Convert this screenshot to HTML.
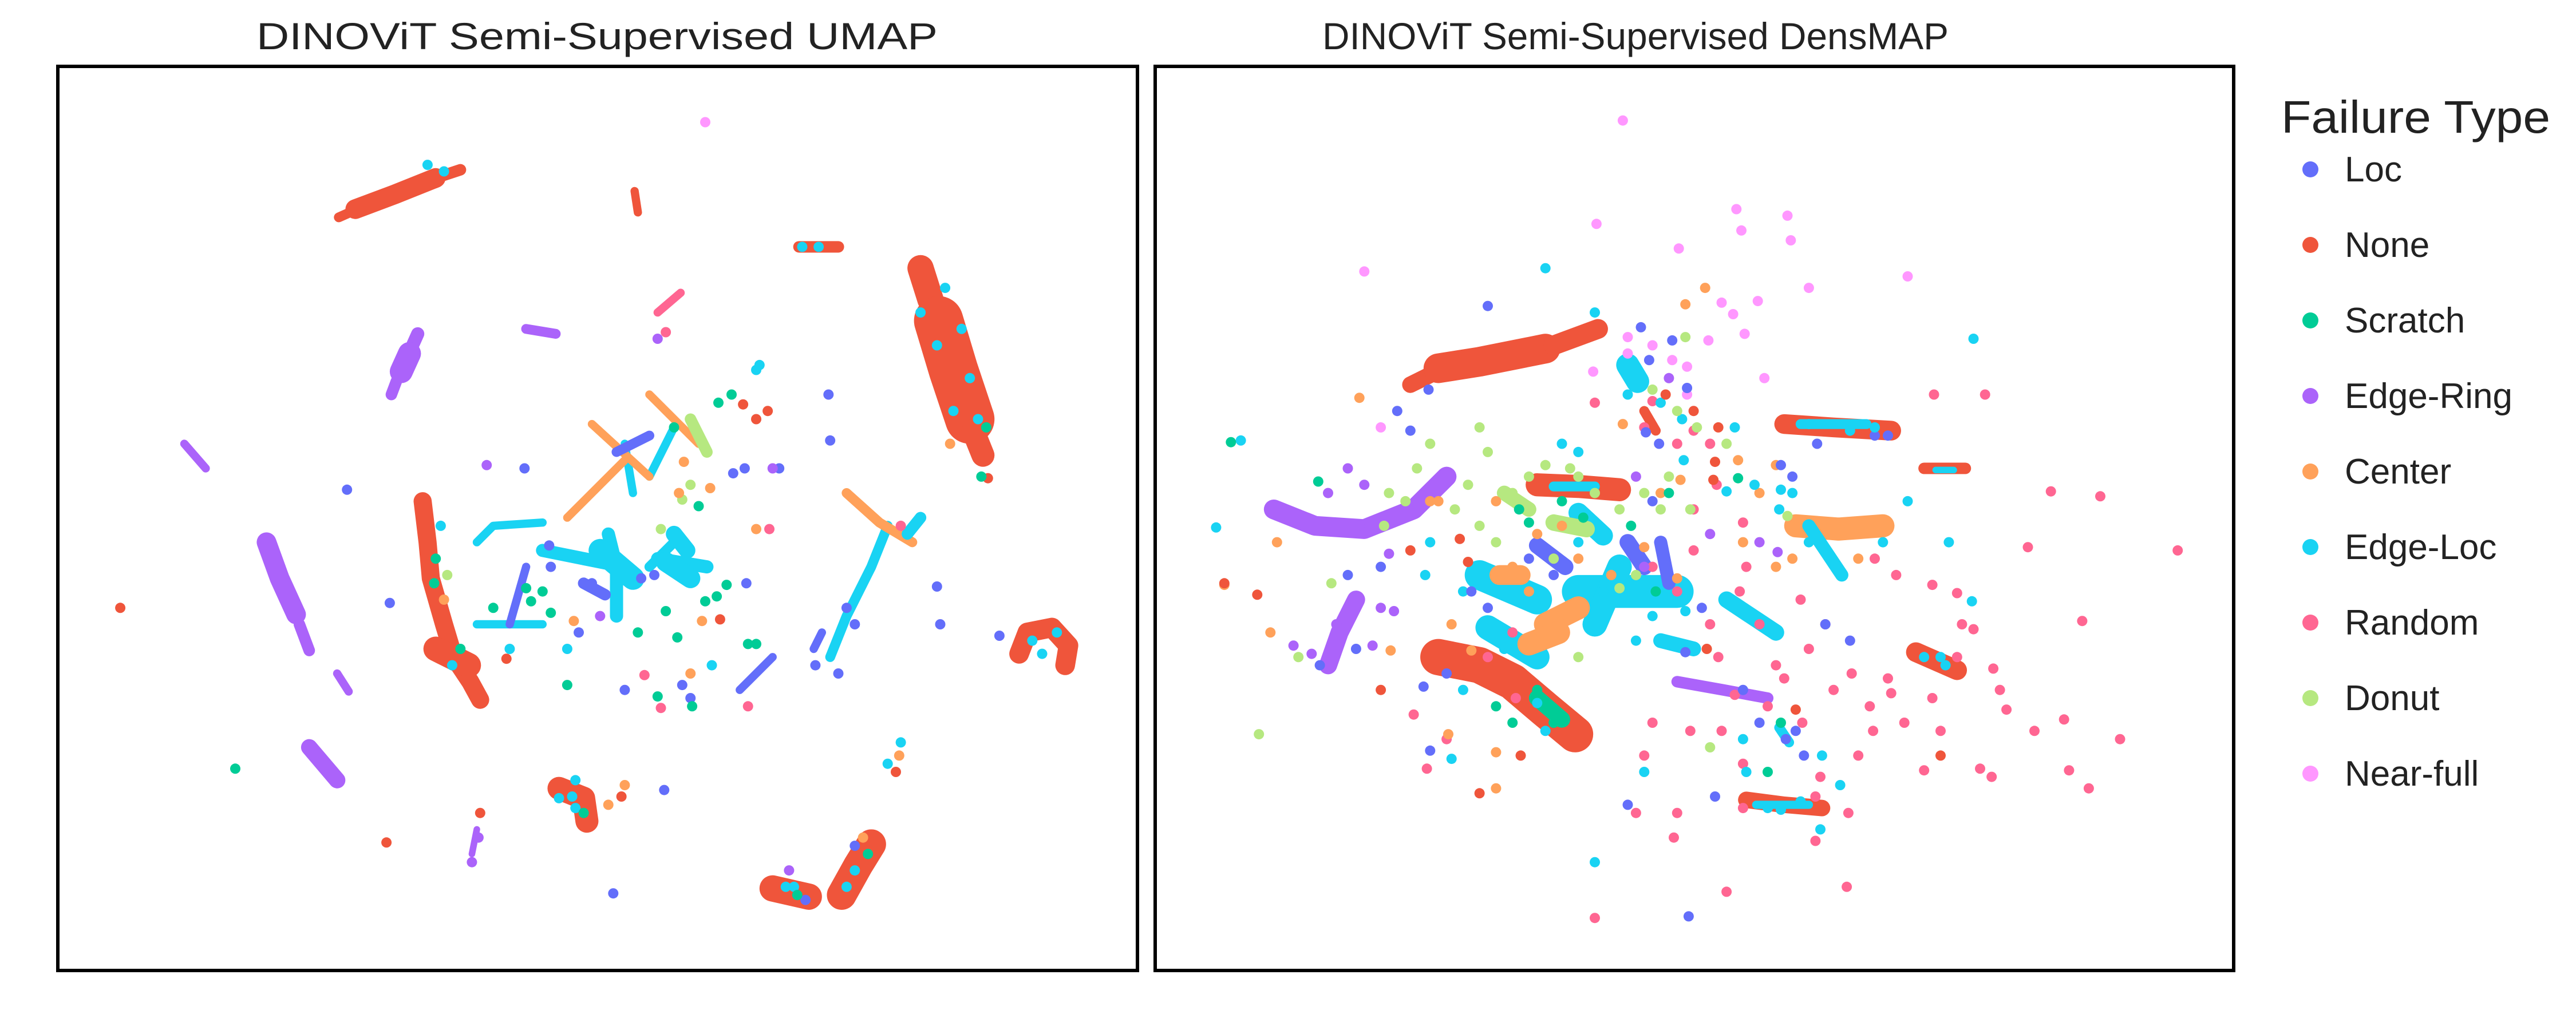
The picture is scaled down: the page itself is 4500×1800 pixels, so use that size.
<!DOCTYPE html>
<html><head><meta charset="utf-8"><style>
html,body{margin:0;padding:0;background:#fff;}
svg{display:block;font-family:"Liberation Sans",Arial,sans-serif;}
</style></head><body>
<svg id="chart" width="4500" height="1800" viewBox="0 0 4500 1800" xmlns="http://www.w3.org/2000/svg">
<rect x="0" y="0" width="4500" height="1800" fill="#fff"/>
<g id="umap"></g>
<g id="dens"></g>
<rect x="101" y="116" width="1886" height="1580" fill="none" stroke="#000" stroke-width="6"/>
<rect x="2018" y="116" width="1884" height="1580" fill="none" stroke="#000" stroke-width="6"/>
<text x="1043" y="86" font-size="66" fill="#222" text-anchor="middle" textLength="1190" lengthAdjust="spacingAndGlyphs">DINOViT Semi-Supervised UMAP</text>
<text x="2857" y="86" font-size="66" fill="#222" text-anchor="middle" textLength="1094" lengthAdjust="spacingAndGlyphs">DINOViT Semi-Supervised DensMAP</text>
<g id="legend">
<text x="3985" y="232" font-size="80" fill="#222" textLength="470" lengthAdjust="spacingAndGlyphs">Failure Type</text>
</g>
</svg>
<script>
const categories = ["Loc","None","Scratch","Edge-Ring","Center","Edge-Loc","Random","Donut","Near-full"];
const colors = ["#636efa","#ef553b","#00cc96","#ab63fa","#ffa15a","#19d3f3","#ff6692","#b6e880","#ff97ff"];

// UMAP embedding: dense clusters [category, spread, x1,y1,x2,y2,...]
const umapBlobs = [
[1,6,206,132,215,128],
[1,12,216,127,240,118,265,108],
[1,7,265,108,280,103],
[1,16,560,163,566,182],
[1,30,571,195,580,225,590,255],
[1,14,592,262,598,277],
[1,7,486,150,510,150],
[1,5,386,116,388,129],
[6,5,400,190,414,178],
[1,12,620,398,625,385,640,382,650,393,648,405],
[1,11,257,305,260,330,262,352,270,380,276,400,286,415,292,426],
[1,15,265,395,285,405],
[1,14,340,480,355,486,357,500],
[1,16,470,541,492,546],
[1,18,512,545,522,527,530,514],
[3,8,254,203,250,212],
[3,14,249,215,244,226],
[3,7,241,232,238,240],
[3,6,320,200,338,203],
[3,5,112,270,125,285],
[3,12,162,330,170,352,180,374],
[3,7,182,380,188,396],
[3,5,205,410,212,421],
[3,10,188,455,205,475],
[3,4,290,505,287,520],
[5,8,330,335,355,340,380,345],
[5,8,370,325,375,345,375,375],
[5,14,365,335,385,352],
[5,6,395,345,410,330],
[5,8,400,340,430,345],
[5,12,405,342,420,352],
[5,10,410,325,418,335],
[5,5,290,330,300,320,330,318],
[5,5,290,380,330,380],
[5,6,505,400,515,375,530,345,540,320],
[5,5,380,270,385,300],
[5,5,395,290,410,260],
[4,5,360,258,395,290],
[4,5,395,240,425,270],
[4,5,345,315,380,280],
[4,6,515,300,535,318,555,330],
[7,7,420,255,430,275],
[0,5,310,380,320,345],
[0,5,450,420,470,400],
[0,5,495,395,500,385],
[0,6,375,275,395,265],
[0,7,355,355,368,362],
[5,7,560,315,552,325]
];
// UMAP scattered points [x,y,category]
const umapPoints = [
[429,74,8],[73,370,1],[211,298,0],[237,367,0],[143,468,2],[235,513,1],[292,495,1],[373,544,0],[404,481,0],[296,283,3],[319,285,0],[334,332,0],[308,401,1],[392,411,6],[400,424,2],[415,417,0],[345,417,2],[429,366,2],[455,392,2],[455,430,6],[460,392,2],[496,405,0],[510,410,0],[515,370,0],[520,380,0],[437,245,2],[460,225,5],[462,222,5],[504,240,0],[505,268,0],[474,285,0],[467,250,1],[445,240,2],[570,357,0],[572,380,0],[601,291,1],[597,290,2],[608,387,0],[547,460,4],[540,465,5],[545,470,1],[548,452,5],[410,260,2],[416,281,4],[432,297,4],[425,308,2],[460,322,4],[420,425,0],[402,431,6],[421,430,2],[454,355,0],[442,356,2],[436,363,2],[427,378,4],[438,377,1],[412,388,2],[388,385,2],[380,420,0],[335,373,2],[300,370,2],[310,395,5],[264,355,2],[270,365,4],[380,478,4],[378,485,1],[370,490,4],[340,486,5],[350,492,5],[350,475,5],[291,510,3],[287,525,3],[483,540,5],[490,548,0],[520,515,0],[525,510,4],[480,530,3],[460,255,1],[452,246,1],[400,206,3],[405,202,6],[420,410,4],[433,405,5],[335,345,0],[360,355,0],[365,375,3],[352,385,0],[398,350,0],[405,372,2],[390,352,0],[345,395,5],[468,322,6],[548,320,6],[470,285,3],[453,285,0],[446,288,0],[320,358,2],[330,360,2],[323,366,2],[349,378,4],[402,322,7],[415,304,7],[420,295,7],[413,300,4],
[575,175,5],[585,200,5],[590,230,5],[580,250,5],[595,255,5],[570,210,5],[600,260,2],[578,270,4],[560,190,5],[268,320,5],[265,340,2],[272,350,7],[280,395,2],[275,405,5],[628,390,5],[643,385,5],[634,398,5],[348,485,5],[355,495,2],[478,540,5],[485,545,2],[520,530,5],[528,520,2],[515,540,5],[260,100,5],[270,104,5],[488,150,5],[498,150,5]
];

// DensMAP embedding: dense clusters
const densBlobs = [
[1,10,858,234,870,228],
[1,18,875,224,900,220,940,212],
[1,12,945,210,972,200],
[1,12,1085,258,1115,260,1150,262],
[5,6,1095,258,1135,258],
[1,7,1170,285,1195,285],
[5,4,1177,286,1188,286],
[1,14,935,295,960,296,985,298],
[5,6,945,296,970,296],
[5,14,990,222,996,232],
[1,6,1000,250,1007,262],
[3,12,775,310,800,320,830,322,860,310,880,290],
[3,11,825,365,815,385,808,405],
[1,22,875,400,900,405,920,415,940,432,958,447],
[2,10,935,425,950,438],
[5,20,960,360,990,360,1020,360],
[5,15,905,382,935,400],
[5,15,970,380,985,345],
[5,18,900,350,935,365],
[5,12,960,312,975,326],
[0,10,990,330,1000,345],
[0,10,935,332,952,345],
[4,14,940,380,960,370],
[4,14,930,392,948,385],
[4,12,912,350,925,350],
[7,10,945,318,965,322],
[7,9,915,300,930,310],
[4,14,1092,320,1118,322,1145,320],
[5,8,1100,320,1120,350],
[1,12,1165,397,1190,408],
[3,7,1020,415,1048,420,1075,425],
[1,10,1062,487,1085,490,1108,492],
[5,5,1068,490,1100,490],
[5,6,1082,443,1088,452],
[5,10,1050,365,1080,385],
[0,8,1010,330,1015,355],
[5,9,1010,390,1030,395]
];
const densPoints = [
[987,73,8],[971,136,8],[1056,127,8],[1059,140,8],[1087,131,8],[1089,146,8],[1021,151,8],[1047,184,8],[1054,191,8],[1069,183,8],[1100,175,8],[1160,168,8],[1039,207,8],[1061,203,8],[1026,223,8],[969,226,8],[990,205,8],[990,215,8],[1005,210,8],[1017,219,8],[1073,230,8],[1026,240,8],[830,165,8],[840,260,8],
[1324,335,6],[1277,302,6],[1207,240,6],[1176,240,6],[1247,299,6],[1233,333,6],[1266,378,6],[1212,407,6],[1220,432,6],[1237,445,6],[1204,468,6],[1211,473,6],[1255,438,6],[1258,469,6],[1289,450,6],[1270,480,6],[1170,469,6],[1124,495,6],[1123,540,6],[1104,512,6],[1137,430,6],[1153,350,6],[1175,356,6],[1190,361,6],[1193,380,6],[1200,383,6],[1150,422,6],[1139,445,6],[1107,473,6],[1104,485,6],[1050,543,6],[970,559,6],[1018,510,6],[1020,495,6],[1000,460,6],[1005,440,6],[1028,445,6],[1047,445,6],[1055,423,6],[1060,465,6],[1080,405,6],[1045,400,6],[1070,380,6],[1040,380,6],[1020,360,6],[1030,335,6],[1062,345,6],[1095,365,6],[1110,380,6],[1126,410,6],[1140,340,6],[1100,395,6],[1115,420,6],[1175,425,6],[1190,400,6],[1060,318,6],[1044,295,6],[1020,270,6],[1030,262,6],[1040,270,6],[1000,260,6],[1005,244,6],[970,245,6],[1148,413,6],[995,495,6],[1060,492,6],[1158,440,6],[1180,445,6],[1216,420,6],[1005,345,6],[1030,310,6],[1058,360,6],[1075,430,6],[1085,413,6],[1096,440,6],[1130,460,6],[920,385,6],[922,425,6],[905,400,6],[860,435,6],[868,468,6],[880,450,6],
[827,242,4],[777,330,4],[745,356,4],[773,385,4],[870,305,4],[846,396,4],[895,396,4],[910,458,4],[881,447,4],[987,258,4],[1022,292,4],[1010,300,4],[1057,280,4],[1080,283,4],[1025,185,4],[1037,175,4],[875,305,4],[910,305,4],[950,320,4],[960,340,4],[980,350,4],[950,380,4],[930,360,4],[920,345,4],[935,325,4],[1000,333,4],[1020,352,4],[1060,330,4],[1070,300,4],[1080,345,4],[1090,340,4],[1130,340,4],[910,480,4],[883,380,4],
[740,321,5],[755,268,5],[940,163,5],[1200,206,5],[1023,255,5],[1055,260,5],[1024,280,5],[1050,299,5],[1067,295,5],[1083,298,5],[1090,300,5],[1082,310,5],[1100,330,5],[1145,330,5],[1160,305,5],[1060,450,5],[1062,470,5],[1083,493,5],[1119,478,5],[1107,505,5],[935,428,5],[883,462,5],[867,350,5],[970,525,5],[1108,460,5],[1000,470,5],[1180,400,5],[1185,330,5],[1199,366,5],[960,330,5],[975,360,5],[1025,372,5],[995,390,5],[1005,375,5],[870,330,5],[890,360,5],[950,270,5],[960,275,5],[990,240,5],[1010,245,5],[970,190,5],
[905,186,0],[998,199,0],[1017,207,0],[1003,219,0],[1026,236,0],[869,237,0],[850,250,0],[858,262,0],[1001,263,0],[1009,270,0],[1083,283,0],[1090,290,0],[1140,265,0],[1148,265,0],[1105,270,0],[840,345,0],[803,405,0],[825,395,0],[866,418,0],[870,457,0],[990,490,0],[1027,558,0],[1086,450,0],[1097,460,0],[1043,485,0],[1060,420,0],[1025,397,0],[1035,370,0],[1110,380,0],[1125,390,0],[1070,440,0],[1092,445,0],[895,360,0],[905,370,0],[930,340,0],[945,350,0],[990,330,0],[1005,305,0],[880,410,0],[820,350,0],
[749,269,2],[802,293,2],[924,310,2],[930,318,2],[950,305,2],[963,315,2],[992,320,2],[1057,291,2],[1083,440,2],[1075,470,2],[1007,360,2],[910,430,2],[920,440,2],[945,440,2],[935,420,2],[1015,300,2],
[808,300,3],[820,285,3],[830,295,3],[827,320,3],[845,337,3],[813,380,3],[840,370,3],[848,372,3],[787,393,3],[798,398,3],[835,393,3],[1015,230,3],[1040,325,3],[1000,345,3],[1070,330,3],[1081,336,3],[995,290,3],
[766,447,7],[790,400,7],[842,320,7],[855,305,7],[862,285,7],[870,270,7],[900,260,7],[905,275,7],[893,295,7],[885,310,7],[900,320,7],[910,330,7],[920,300,7],[930,290,7],[940,283,7],[955,285,7],[960,290,7],[970,300,7],[985,310,7],[1000,300,7],[1010,310,7],[995,350,7],[985,358,7],[1020,250,7],[1032,260,7],[1050,270,7],[1005,237,7],[1040,455,7],[945,340,7],[960,400,7],[1015,290,7],[1028,310,7],[810,355,7],[845,300,7],[1025,205,7],[1087,314,7],
[745,355,1],[765,362,1],[858,335,1],[900,483,1],[888,328,1],[893,342,1],[1042,292,1],[1043,281,1],[1013,240,1],[1045,260,1],[1030,250,1],[1038,395,1],[1092,432,1],[1180,460,1],[840,420,1],[925,460,1],
[1100,258,5],[1125,262,5],[1140,260,5],[915,395,5],[890,420,5],[940,445,5],[1075,492,5],[1095,488,5],[1170,400,5],[1183,405,5]
];

const NS = "http://www.w3.org/2000/svg";
function makeScale(d0, d1, r0, r1){ return v => r0 + (v - d0) / (d1 - d0) * (r1 - r0); }

function drawPanel(gid, blobs, points, xd, yd, xr, yr){
  const g = document.getElementById(gid);
  const sx = makeScale(xd[0], xd[1], xr[0], xr[1]);
  const sy = makeScale(yd[0], yd[1], yr[0], yr[1]);
  const k = (xr[1]-xr[0])/(xd[1]-xd[0]);
  blobs.forEach(b => {
    const c = b[0], w = b[1];
    let d = "";
    for(let i=2;i<b.length;i+=2){ d += (i===2?"M":"L") + sx(b[i]).toFixed(1) + "," + sy(b[i+1]).toFixed(1); }
    const p = document.createElementNS(NS, "path");
    p.setAttribute("d", d);
    p.setAttribute("fill", "none");
    p.setAttribute("stroke", colors[c]);
    p.setAttribute("stroke-width", (w*k).toFixed(1));
    p.setAttribute("stroke-linecap", "round");
    p.setAttribute("stroke-linejoin", "round");
    
    
    g.appendChild(p);
  });
  points.forEach(pt => {
    const ci = document.createElementNS(NS, "circle");
    ci.setAttribute("cx", sx(pt[0]).toFixed(1));
    ci.setAttribute("cy", sy(pt[1]).toFixed(1));
    ci.setAttribute("r", 9);
    ci.setAttribute("fill", colors[pt[2]]);
    
    
    g.appendChild(ci);
  });
}
drawPanel("umap", umapBlobs, umapPoints, [35,692], [40,591], [101,1987], [116,1696]);
drawPanel("dens", densBlobs, densPoints, [703,1358], [40,591], [2018,3902], [116,1696]);

const lg = document.getElementById("legend");
categories.forEach((name, i) => {
  const y = 296 + i*132;
  const c = document.createElementNS(NS, "circle");
  c.setAttribute("cx", 4036); c.setAttribute("cy", y); c.setAttribute("r", 14);
  c.setAttribute("fill", colors[i]);
  
  
  lg.appendChild(c);
  const t = document.createElementNS(NS, "text");
  t.setAttribute("x", 4096); t.setAttribute("y", y + 21);
  t.setAttribute("font-size", 62); t.setAttribute("fill", "#222");
  t.textContent = name;
  
  
  lg.appendChild(t);
});
</script>
</body></html>
